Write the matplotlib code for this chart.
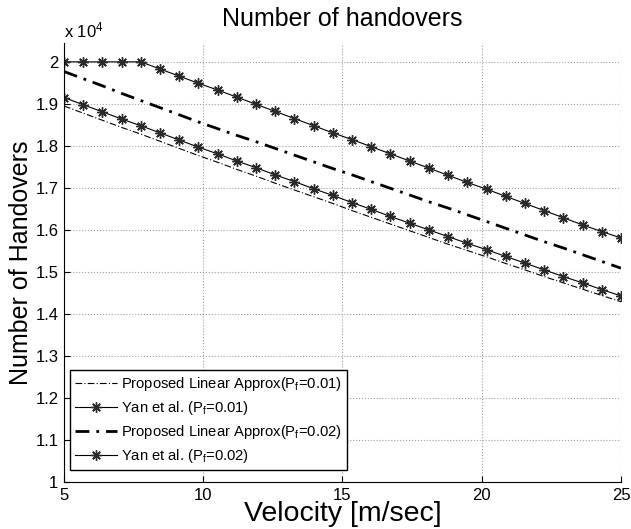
import matplotlib
matplotlib.use('Agg')
import matplotlib.pyplot as plt
import numpy as np

plt.rcParams['font.family'] = ['Liberation Sans', 'DejaVu Sans']
plt.rcParams['mathtext.fontset'] = 'custom'
plt.rcParams['mathtext.rm'] = 'Liberation Sans'
plt.rcParams['mathtext.it'] = 'Liberation Sans:italic'
plt.rcParams['mathtext.default'] = 'regular'

# velocity samples [m/sec] (30 points between 5 and 25)
velocity = np.linspace(5, 25, 30)

# number of handovers, in units of 10^4
prop_001 = [1.895, 1.878, 1.861, 1.844, 1.828, 1.811, 1.794, 1.777, 1.761, 1.744,
            1.728, 1.711, 1.695, 1.679, 1.663, 1.646, 1.630, 1.614, 1.598, 1.582,
            1.566, 1.551, 1.536, 1.520, 1.505, 1.489, 1.474, 1.459, 1.444, 1.429]
yan_001 = [1.915, 1.898, 1.881, 1.864, 1.848, 1.831, 1.814, 1.797, 1.781, 1.764,
           1.748, 1.731, 1.715, 1.698, 1.682, 1.665, 1.649, 1.632, 1.616, 1.600,
           1.584, 1.568, 1.553, 1.537, 1.521, 1.505, 1.489, 1.474, 1.458, 1.443]
prop_002 = [1.977, 1.960, 1.943, 1.925, 1.908, 1.891, 1.874, 1.857, 1.841, 1.825,
            1.810, 1.794, 1.778, 1.762, 1.746, 1.731, 1.715, 1.699, 1.683, 1.667,
            1.652, 1.636, 1.620, 1.604, 1.588, 1.572, 1.557, 1.541, 1.525, 1.509]
yan_002 = [2.000, 2.000, 2.000, 2.000, 2.000, 1.983, 1.966, 1.949, 1.933, 1.916,
           1.899, 1.882, 1.865, 1.848, 1.831, 1.815, 1.798, 1.781, 1.764, 1.747,
           1.730, 1.713, 1.697, 1.680, 1.663, 1.646, 1.629, 1.612, 1.596, 1.581]

labels = ['Proposed Linear Approx(P$_f$=0.01)', 'Yan et al. (P$_f$=0.01)',
          'Proposed Linear Approx(P$_f$=0.02)', 'Yan et al. (P$_f$=0.02)']

fig = plt.figure(figsize=(6.31, 5.29), dpi=100)
ax = fig.add_axes([0.1014, 0.0888, 0.8827, 0.830])

star = (8, 2, 0)   # MATLAB-like asterisk
ax.plot(velocity, prop_001, color='black', lw=0.8, ls=(0, (6, 2, 1, 2)),
        label=labels[0])
ax.plot(velocity, yan_001, color='black', lw=0.8, marker=star, markersize=7.5,
        markeredgewidth=1.0, markeredgecolor='#2a2a2a', label=labels[1])
ax.plot(velocity, prop_002, color='black', lw=2.0, ls=(0, (5, 2.5, 1, 2.5)),
        label=labels[2])
ax.plot(velocity, yan_002, color='black', lw=0.8, marker=star, markersize=7.5,
        markeredgewidth=1.0, markeredgecolor='#2a2a2a', label=labels[3])

ax.set_xlim(5, 25)
ax.set_ylim(1, 2.045)
ax.set_xticks([5, 10, 15, 20, 25])
ax.set_yticks(np.arange(1.0, 2.01, 0.1))
ax.set_yticklabels(['1', '1.1', '1.2', '1.3', '1.4', '1.5', '1.6', '1.7', '1.8', '1.9', '2'])
ax.tick_params(direction='in', length=4, labelsize=12, pad=4)

for side in ['top', 'right']:
    ax.spines[side].set_visible(False)
ax.grid(True, ls=':', color='#a0a0a0', lw=0.8)

ax.text(0, 1.005, 'x 10$^4$', transform=ax.transAxes, ha='left', va='bottom',
        fontsize=12)
ax.set_title('Number of handovers', fontsize=18, pad=12)
ax.set_xlabel('Velocity [m/sec]', fontsize=20.5, labelpad=-1)
ax.set_ylabel('Number of Handovers', fontsize=18, labelpad=2)

leg = ax.legend(loc='lower left', bbox_to_anchor=(0.006, 0.02), fontsize=10.6,
                fancybox=False, edgecolor='black', framealpha=1,
                handlelength=2.8, handletextpad=0.3, borderpad=0.35,
                labelspacing=0.4, borderaxespad=0.2)
leg.get_frame().set_linewidth(1.0)

fig.savefig('out.png', dpi=100)
